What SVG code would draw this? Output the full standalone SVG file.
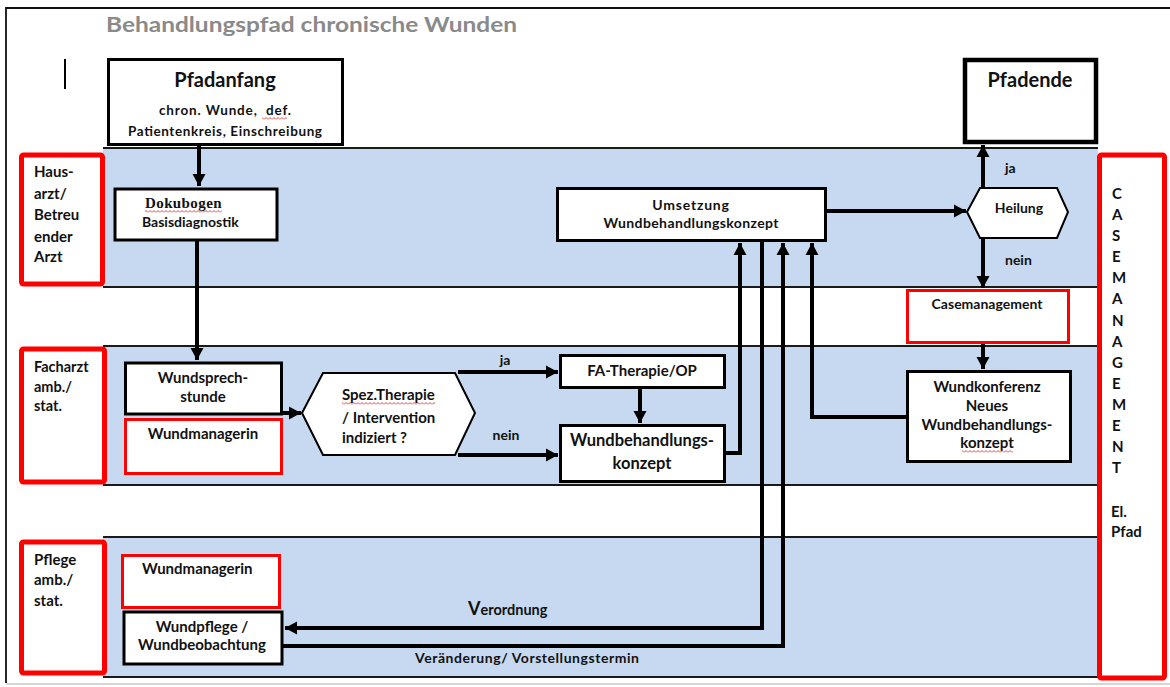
<svg xmlns="http://www.w3.org/2000/svg" width="1170" height="687" viewBox="0 0 1170 687">
<defs>
<marker id="ah" markerUnits="userSpaceOnUse" markerWidth="14" markerHeight="14" refX="12" refY="7" orient="auto">
<path d="M0,0.5 L12,7 L0,13.5 z" fill="#000"/>
</marker>
<pattern id="sq" width="4" height="3" patternUnits="userSpaceOnUse">
<path d="M0,2.5 L2,0.5 L4,2.5" stroke="#e03030" fill="none" stroke-width="0.9"/>
</pattern>
<style>
.t{font-family:Lato,'Liberation Sans',sans-serif;font-weight:bold;font-size:14px;fill:#111}
.m{text-anchor:middle}
.lane{fill:#c6d9f0}
.ll{stroke:#1a1a1a;stroke-width:1.8}
.box{fill:#fff;stroke:#000;stroke-width:3}
.red{fill:#fff;stroke:#ff0000;stroke-width:3}
.redl{fill:#fff;stroke:#ff0000;stroke-width:5}
.c{fill:none;stroke:#000;stroke-width:4}
.sq{fill:url(#sq)}
</style>
</defs>
<rect x="0" y="0" width="1170" height="687" fill="#fff"/>
<!-- frame -->
<path d="M6,683 V8 H1170" fill="none" stroke="#111" stroke-width="1.8"/>
<line x1="6" y1="684" x2="1170" y2="684" stroke="#c8c8c8" stroke-width="1.5"/>
<text x="106" y="32" font-family="Lato,'Liberation Sans',sans-serif" font-weight="bold" font-size="21" fill="#8a8a8a" textLength="411" lengthAdjust="spacingAndGlyphs">Behandlungspfad chronische Wunden</text>
<line x1="65" y1="59" x2="65" y2="89" stroke="#000" stroke-width="2"/>

<!-- lanes -->
<g id="lanes">
<rect class="lane" x="103" y="148" width="995" height="139"/>
<line class="ll" x1="103" y1="148" x2="1098" y2="148"/>
<line class="ll" x1="103" y1="287" x2="1098" y2="287"/>
<rect class="lane" x="103" y="346" width="995" height="139"/>
<line class="ll" x1="103" y1="346" x2="1098" y2="346"/>
<line class="ll" x1="103" y1="485" x2="1098" y2="485"/>
<rect class="lane" x="103" y="537" width="995" height="140"/>
<line class="ll" x1="103" y1="537" x2="1098" y2="537"/>
<line class="ll" x1="103" y1="677" x2="1098" y2="677"/>
</g>

<g id="lane-hausarzt">
<rect class="redl" x="21.5" y="155" width="81" height="129" rx="2"/>
<text class="t" style="font-size:15px"><tspan x="34" y="177">Haus-</tspan><tspan x="34" y="199">arzt/</tspan><tspan x="34" y="220">Betreu</tspan><tspan x="34" y="242">ender</tspan><tspan x="34" y="262">Arzt</tspan></text>
</g>
<g id="lane-facharzt">
<rect class="redl" x="21.5" y="349" width="83" height="133" rx="2"/>
<text class="t" style="font-size:14.5px"><tspan x="34" y="372">Facharzt</tspan><tspan x="34" y="392">amb./</tspan><tspan x="34" y="411">stat.</tspan></text>
</g>
<g id="lane-pflege">
<rect class="redl" x="21.5" y="542" width="83" height="131" rx="2"/>
<text class="t" style="font-size:15px"><tspan x="34" y="565">Pflege</tspan><tspan x="34" y="585">amb./</tspan><tspan x="34" y="606">stat.</tspan></text>
</g>
<g id="casemanagement-side">
<rect class="redl" x="1099.5" y="155" width="65" height="523" rx="2"/>
<text class="t" style="font-size:15px"><tspan x="1112" y="199">C</tspan><tspan x="1112" y="220">A</tspan><tspan x="1112" y="241">S</tspan><tspan x="1112" y="262">E</tspan><tspan x="1112" y="283">M</tspan><tspan x="1112" y="304">A</tspan><tspan x="1112" y="326">N</tspan><tspan x="1112" y="347">A</tspan><tspan x="1112" y="368">G</tspan><tspan x="1112" y="389">E</tspan><tspan x="1112" y="410">M</tspan><tspan x="1112" y="431">E</tspan><tspan x="1112" y="452">N</tspan><tspan x="1112" y="473">T</tspan><tspan x="1111" y="517">El.</tspan><tspan x="1111" y="537">Pfad</tspan></text>
</g>

<!-- connectors -->
<g id="connectors">
<path class="c" d="M199,145 V186" marker-end="url(#ah)"/>
<path class="c" d="M197,240 V360" marker-end="url(#ah)"/>
<path class="c" d="M282,413 H301" marker-end="url(#ah)"/>
<path class="c" d="M458,372 H558" marker-end="url(#ah)"/>
<path class="c" d="M458,455 H558" marker-end="url(#ah)"/>
<path class="c" d="M640,387 V423" marker-end="url(#ah)"/>
<path class="c" d="M725,453 H740 V243" marker-end="url(#ah)"/>
<path class="c" d="M762,241 V628 H285" marker-end="url(#ah)"/>
<path class="c" d="M283,646 H783 V243" marker-end="url(#ah)"/>
<path class="c" d="M907,417 H812 V243" marker-end="url(#ah)"/>
<path class="c" d="M826,211 H966" marker-end="url(#ah)"/>
<path class="c" d="M983,188 V145" marker-end="url(#ah)"/>
<path class="c" d="M983,238 V288" marker-end="url(#ah)"/>
<path class="c" d="M983,342 V369" marker-end="url(#ah)"/>
<text class="t" x="1005" y="173">ja</text>
<text class="t" x="1005" y="265">nein</text>
<text class="t m" x="505" y="365">ja</text>
<text class="t m" x="506" y="440">nein</text>
<text class="t" x="468" y="615"><tspan style="font-size:18px">V</tspan><tspan style="font-size:14.5px">erordnung</tspan></text>
<text class="t" x="415" y="663" textLength="224">Veränderung/ Vorstellungstermin</text>
</g>

<!-- nodes -->
<g id="pfadanfang">
<rect class="box" x="108.5" y="59.5" width="234" height="85"/>
<text class="t m" x="225" y="87" style="font-size:20px">Pfadanfang</text>
<text class="t m" x="225" y="115" style="font-size:13.5px" textLength="132" xml:space="preserve">chron. Wunde,  def.</text>
<text class="t m" x="225" y="136" style="font-size:13.5px" textLength="194">Patientenkreis, Einschreibung</text>
<rect class="sq" x="262" y="117" width="25" height="3"/>
</g>
<g id="pfadende">
<rect class="box" x="965" y="60" width="131" height="82" style="stroke-width:4.5px"/>
<text class="t m" x="1030" y="87" style="font-size:20px">Pfadende</text>
</g>
<g id="dokubogen">
<rect class="box" x="115" y="189" width="162" height="51"/>
<text x="145" y="208" font-family="'Liberation Serif',serif" font-weight="bold" font-size="15" fill="#111" letter-spacing="0.4">Dokubogen</text>
<rect class="sq" x="145" y="210" width="77" height="3"/>
<text class="t" x="142" y="227">Basisdiagnostik</text>
</g>
<g id="umsetzung">
<rect class="box" x="557.5" y="188.5" width="268" height="52"/>
<text class="t m" x="691" y="210" letter-spacing="0.8">Umsetzung</text>
<text class="t m" x="691" y="228" textLength="175">Wundbehandlungskonzept</text>
</g>
<g id="heilung">
<polygon points="967,212 980,188 1057,188 1068,212 1057,238 980,238" fill="#fff" stroke="#000" stroke-width="2"/>
<text class="t m" x="1019" y="213">Heilung</text>
</g>
<g id="casemanagement">
<rect class="red" x="907.5" y="290.5" width="161" height="52"/>
<text class="t m" x="987" y="309">Casemanagement</text>
</g>
<g id="wundkonferenz">
<rect class="box" x="907.5" y="371.5" width="163" height="90"/>
<text class="t m" style="font-size:15px"><tspan x="987" y="392">Wundkonferenz</tspan><tspan x="987" y="411">Neues</tspan><tspan x="987" y="430">Wundbehandlungs-</tspan><tspan x="987" y="448">konzept</tspan></text>
<rect class="sq" x="962" y="450" width="51" height="3"/>
</g>
<g id="wundsprechstunde">
<rect class="box" x="125.5" y="363" width="156" height="51"/>
<text class="t m" style="font-size:15px"><tspan x="203" y="383">Wundsprech-</tspan><tspan x="203" y="402">stunde</tspan></text>
</g>
<g id="wundmanagerin-fa">
<rect class="red" x="125.5" y="419.5" width="156" height="54"/>
<text class="t m" x="203" y="439" style="font-size:15px">Wundmanagerin</text>
</g>
<g id="spez-therapie">
<polygon points="302,413 323,373 455,373 475,413 455,455 323,455" fill="#fff" stroke="#000" stroke-width="2"/>
<text class="t" style="font-size:15px"><tspan x="342" y="400">Spez.Therapie</tspan><tspan x="342" y="423">/ Intervention</tspan><tspan x="342" y="443">indiziert ?</tspan></text>
<rect class="sq" x="342" y="402" width="93" height="3"/>
</g>
<g id="fa-therapie">
<rect class="box" x="560.5" y="355.5" width="164" height="32"/>
<text class="t m" x="642" y="376" style="font-size:15px">FA-Therapie/OP</text>
</g>
<g id="wundbehandlungskonzept">
<rect class="box" x="560.5" y="425.5" width="164" height="56"/>
<text class="t m" style="font-size:16.5px"><tspan x="642" y="446">Wundbehandlungs-</tspan><tspan x="642" y="469">konzept</tspan></text>
</g>
<g id="wundmanagerin-pflege">
<rect class="red" x="122.5" y="555.5" width="157" height="52"/>
<text class="t" x="142" y="574" style="font-size:15px">Wundmanagerin</text>
</g>
<g id="wundpflege">
<rect class="box" x="124" y="612" width="158" height="52"/>
<text class="t m" style="font-size:15px"><tspan x="202" y="632">Wundpflege /</tspan><tspan x="202" y="650">Wundbeobachtung</tspan></text>
</g>
</svg>
